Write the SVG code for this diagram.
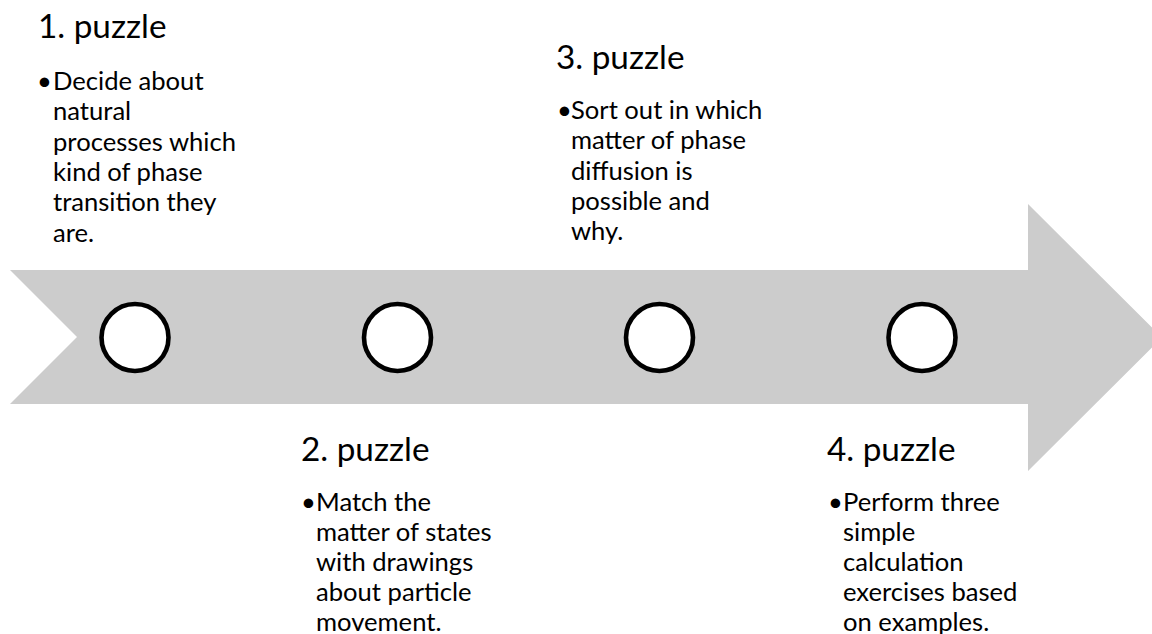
<svg xmlns="http://www.w3.org/2000/svg" width="1152" height="634" viewBox="0 0 1152 634">
<style>
.title{font-family:Lato,"Open Sans","Liberation Sans",sans-serif;font-size:33.3px;fill:#000}
.body{font-family:Lato,"Open Sans","Liberation Sans",sans-serif;font-size:25.6px;fill:#000}
.dot{fill:#fff;stroke:#000;stroke-width:4.6}
</style>
<rect width="1152" height="634" fill="#fff"/>
<g id="arrow">
<polygon points="10,270 1028,270 1028,204 1162,337.5 1028,471 1028,404 10,404 77,337" fill="#cccccc"/>
</g>
<g id="connectors"></g>
<g id="circle1"><circle class="dot" cx="135" cy="337.5" r="33.5"/></g>
<g id="circle2"><circle class="dot" cx="397.5" cy="337.5" r="33.5"/></g>
<g id="circle3"><circle class="dot" cx="659.5" cy="337.5" r="33.5"/></g>
<g id="circle4"><circle class="dot" cx="922" cy="337.5" r="33.5"/></g>
<g id="puzzle1">
<text class="title" x="38" y="38">1. puzzle</text>
<text class="body" x="37" y="90">•</text>
<text class="body"><tspan x="53" y="90">Decide about</tspan><tspan x="53" y="120.3">natural</tspan><tspan x="53" y="150.6">processes which</tspan><tspan x="53" y="180.9">kind of phase</tspan><tspan x="53" y="211.2">transition they</tspan><tspan x="53" y="241.5">are.</tspan></text>
</g>
<g id="puzzle2">
<text class="title" x="301" y="461">2. puzzle</text>
<text class="body" x="301" y="511">•</text>
<text class="body"><tspan x="316" y="511">Match the</tspan><tspan x="316" y="541">matter of states</tspan><tspan x="316" y="571">with drawings</tspan><tspan x="316" y="601">about particle</tspan><tspan x="316" y="631">movement.</tspan></text>
</g>
<g id="puzzle3">
<text class="title" x="556" y="69">3. puzzle</text>
<text class="body" x="557" y="119">•</text>
<text class="body"><tspan x="571" y="119">Sort out in which</tspan><tspan x="571" y="149.3">matter of phase</tspan><tspan x="571" y="179.6">diffusion is</tspan><tspan x="571" y="209.9">possible and</tspan><tspan x="571" y="240.2">why.</tspan></text>
</g>
<g id="puzzle4">
<text class="title" x="827" y="461">4. puzzle</text>
<text class="body" x="828" y="511">•</text>
<text class="body"><tspan x="843" y="511">Perform three</tspan><tspan x="843" y="541">simple</tspan><tspan x="843" y="571">calculation</tspan><tspan x="843" y="601">exercises based</tspan><tspan x="843" y="631">on examples.</tspan></text>
</g>
</svg>
